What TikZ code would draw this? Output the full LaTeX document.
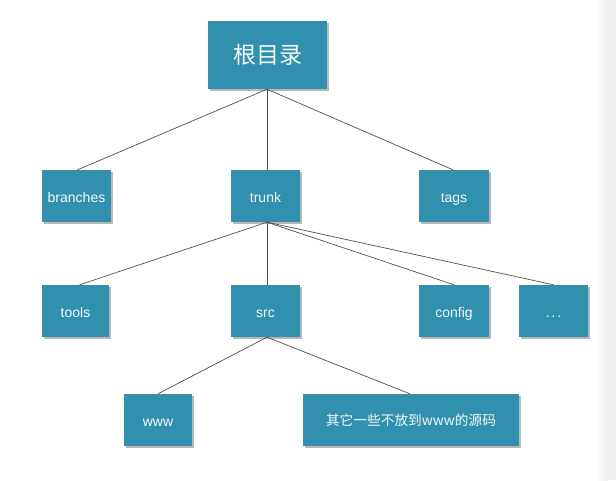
\documentclass[tikz,border=0pt]{standalone}
\usepackage{fontspec}
\setmainfont{Liberation Sans}
\newfontfamily\cjk{Noto Sans CJK SC}
\usetikzlibrary{shadows}
\definecolor{boxteal}{HTML}{3190AE}
\definecolor{edgegray}{HTML}{505050}
\definecolor{sidegray}{HTML}{EFEFEF}
\tikzset{
  x=1pt, y=-1pt,
  treebox/.style={draw=none, fill=boxteal, text=white!94!boxteal,
    inner sep=0pt, font=\fontsize{14}{16}\selectfont,
    drop shadow={shadow xshift=1.5pt, shadow yshift=-2pt, fill=black, opacity=0.28}},
  lbl/.style={text depth=0pt, text height=12pt},
  link/.style={draw=edgegray, line width=0.7pt}
}
\begin{document}
\begin{tikzpicture}
\useasboundingbox (0,0) rectangle (616,480);
\fill[white] (0,0) rectangle (616,480);
\shade[left color=white, right color=sidegray] (596,0) rectangle (608,480);
\fill[sidegray] (608,0) rectangle (616,480);

% boxes
\node[treebox, minimum width=119pt, minimum height=68pt, font=\cjk\fontsize{23}{28}\selectfont] (root) at (267.5,55) {\raisebox{-2pt}{根目录}};
\node[treebox, lbl, minimum width=69pt, minimum height=52pt] (branches) at (76.5,196) {branches};
\node[treebox, lbl, minimum width=69pt, minimum height=52pt] (trunk) at (265.5,196) {trunk};
\node[treebox, lbl, minimum width=70pt, minimum height=52pt] (tags) at (454,196) {tags};
\node[treebox, lbl, minimum width=67pt, minimum height=52pt] (tools) at (75.5,311) {tools};
\node[treebox, lbl, minimum width=69pt, minimum height=52pt] (src) at (265.5,311) {src};
\node[treebox, lbl, minimum width=70pt, minimum height=52pt] (config) at (454,311) {config};
\node[treebox, lbl, minimum width=69pt, minimum height=52pt] (more) at (553.5,311) {.\kern1.8pt.\kern1.8pt.};
\node[treebox, lbl, minimum width=68pt, minimum height=52pt] (www) at (158,420) {www};
\node[treebox, minimum width=216pt, minimum height=52pt, font=\cjk\fontsize{13.7}{16}\selectfont] (rest) at (411,420) {\raisebox{-2pt}{其它一些不放到www的源码}};

% connectors
\coordinate (rootfoot) at ([xshift=-0.5pt]root.south);
\coordinate (trunkhead) at (rootfoot |- trunk.north);
\coordinate (trunkfoot) at (rootfoot |- trunk.south);
\coordinate (srchead) at (rootfoot |- src.north);
\coordinate (srcfoot) at (rootfoot |- src.south);
\draw[link] (rootfoot) -- ([xshift=1pt]branches.north);
\draw[link] (rootfoot) -- (trunkhead);
\draw[link] (rootfoot) -- ([xshift=-1pt]tags.north);
\draw[link] (trunkfoot) -- ([xshift=4pt]tools.north);
\draw[link] (trunkfoot) -- (srchead);
\draw[link] (trunkfoot) -- (config.north);
\draw[link] (trunkfoot) -- (more.north);
\draw[link] (srcfoot) -- (www.north);
\draw[link] (srcfoot) -- ([xshift=-1pt]rest.north);
\end{tikzpicture}
\end{document}
